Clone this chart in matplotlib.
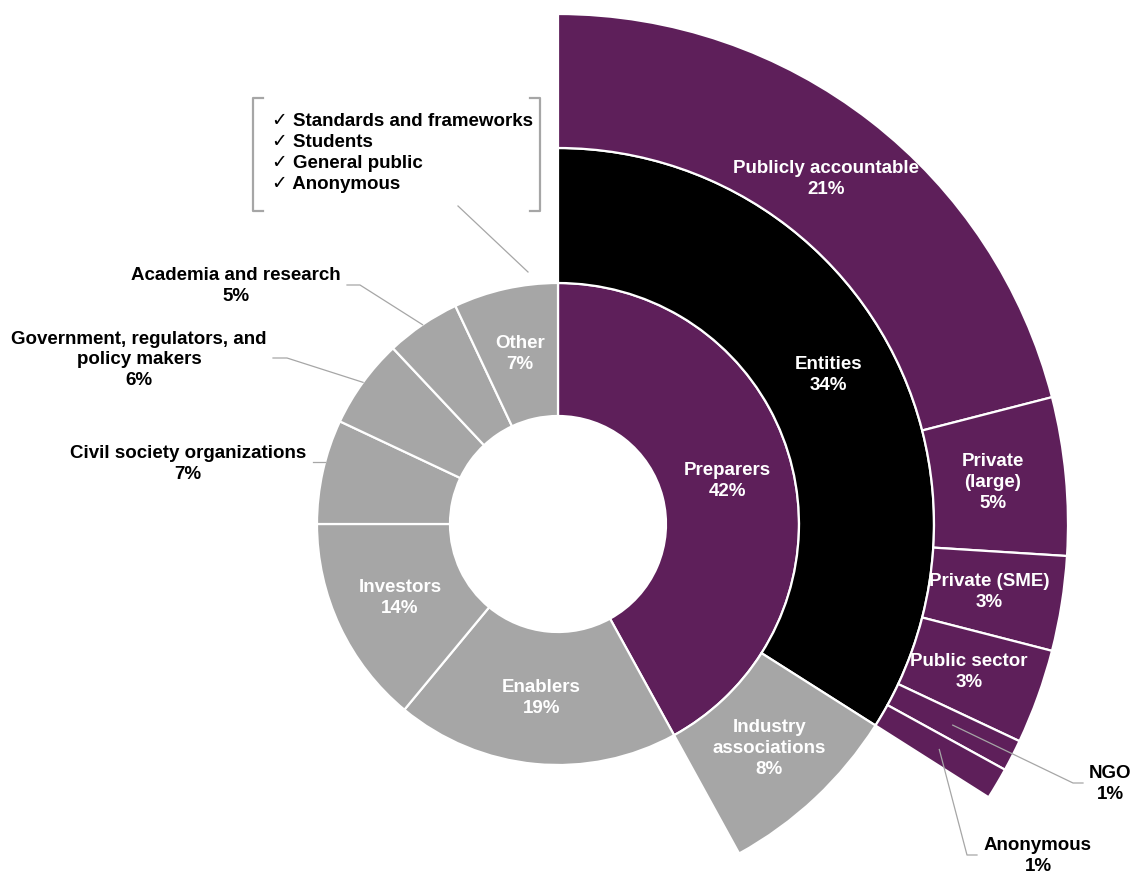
import matplotlib.pyplot as plt
import numpy as np

# Inner ring: stakeholder groups (share of respondents, %)
GROUPS = ["Preparers", "Enablers", "Investors", "Civil society organizations",
          "Government, regulators, and\npolicy makers", "Academia and research", "Other"]
GROUP_PCT = [42, 19, 14, 7, 6, 5, 7]

# Middle ring: breakdown of preparers
PREPARER_TYPES = ["Entities", "Industry\nassociations"]
PREPARER_PCT = [34, 8]

# Outer ring: breakdown of entities
ENTITY_TYPES = ["Publicly accountable", "Private\n(large)", "Private (SME)",
                "Public sector", "NGO", "Anonymous"]
ENTITY_PCT = [21, 5, 3, 3, 1, 1]

# What "Other" contains
OTHER_ITEMS = ["Standards and frameworks", "Students", "General public", "Anonymous"]

PURPLE = "#5E1F5A"
GREY = "#A6A6A6"
BLACK = "#000000"
LINE = "#A6A6A6"
FONT = ["Liberation Sans", "DejaVu Sans"]

W, H = 1138, 876
CX, CY = 558, 524          # ring centre, pixels from top-left
R_HOLE, R_IN, R_MID, R_OUT = 108, 241, 376, 510


def px(x, y):
    """pixel position (from top-left) -> data coords centred on the rings"""
    return x - CX, CY - y


def mid_point(wedge, r):
    ang = np.deg2rad((wedge.theta1 + wedge.theta2) / 2)
    return r * np.cos(ang), r * np.sin(ang)


fig = plt.figure(figsize=(W / 100, H / 100), dpi=100)
ax = fig.add_axes([0, 0, 1, 1])
edge = dict(edgecolor="white", linewidth=1.6)

inner, _ = ax.pie(GROUP_PCT, radius=R_IN, startangle=90, counterclock=False,
                  colors=[PURPLE] + [GREY] * (len(GROUP_PCT) - 1),
                  wedgeprops=dict(width=R_IN - R_HOLE, **edge))

mid_vals = PREPARER_PCT + [100 - sum(PREPARER_PCT)]
middle, _ = ax.pie(mid_vals, radius=R_MID, startangle=90, counterclock=False,
                   colors=[BLACK, GREY, "none"],
                   wedgeprops=dict(width=R_MID - R_IN, **edge))
middle[-1].set_visible(False)

out_vals = ENTITY_PCT + [100 - sum(ENTITY_PCT)]
outer, _ = ax.pie(out_vals, radius=R_OUT, startangle=90, counterclock=False,
                  colors=[PURPLE] * len(ENTITY_PCT) + ["none"],
                  wedgeprops=dict(width=R_OUT - R_MID, **edge))
outer[-1].set_visible(False)

ax.set_xlim(-CX, W - CX)
ax.set_ylim(-(H - CY), CY)
ax.set_aspect("equal")
ax.axis("off")

txt = dict(fontsize=13.5, fontweight="bold", family=FONT, ha="center", va="center",
           linespacing=1.3)

# labels inside the wedges
inside = [(inner, GROUPS, GROUP_PCT, [0, 1, 2, 6], (R_HOLE + R_IN) / 2),
          (middle, PREPARER_TYPES, PREPARER_PCT, [0, 1], (R_IN + R_MID) / 2),
          (outer, ENTITY_TYPES, ENTITY_PCT, [0, 1, 2, 3], (R_MID + R_OUT) / 2 - 6)]
for wedges, names, pcts, idx, r in inside:
    for i in idx:
        ax.text(*mid_point(wedges[i], r), f"{names[i]}\n{pcts[i]}%", color="white", **txt)

# labels outside with leader lines: (wedge, name, pct, text pos, line start, elbow, anchor radius)
r_outer_mid = (R_MID + R_OUT) / 2
outside = [
    (inner[5], GROUPS[5], GROUP_PCT[5], (236, 286), (347, 285), (360, 285), R_IN),
    (inner[4], GROUPS[4], GROUP_PCT[4], (139, 360), (273, 358), (287, 358), R_IN),
    (inner[3], GROUPS[3], GROUP_PCT[3], (188, 464), (313, 462), None, R_IN),
    (outer[4], ENTITY_TYPES[4], ENTITY_PCT[4], (1110, 784), (1083, 783), (1073, 783),
     r_outer_mid),
    (outer[5], ENTITY_TYPES[5], ENTITY_PCT[5], (1038, 856), (977, 855), (967, 855),
     r_outer_mid),
]
for wedge, name, pct, tpos, start, elbow, r in outside:
    ax.text(*px(*tpos), f"{name}\n{pct}%", color="black", **txt)
    x0, y0 = px(*start)
    if elbow is None:
        # straight across to the ring edge
        xs, ys = [x0, -np.sqrt(r ** 2 - y0 ** 2)], [y0, y0]
    else:
        end = mid_point(wedge, r)
        xs = [x0, px(*elbow)[0], end[0]]
        ys = [y0, px(*elbow)[1], end[1]]
    ax.plot(xs, ys, color=LINE, lw=0.9)

# bracketed list of what "Other" covers
for x0, tick in [(253, 10), (540, -10)]:
    bx = [x0 + tick, x0, x0, x0 + tick]
    by = [98, 98, 211, 211]
    ax.plot([px(x, y)[0] for x, y in zip(bx, by)],
            [px(x, y)[1] for x, y in zip(bx, by)], color=LINE, lw=1.6)
ax.text(*px(272, 153), "\n".join("\u2713 " + s for s in OTHER_ITEMS), color="black",
        fontsize=13.5, fontweight="bold", family=FONT, ha="left", va="center",
        linespacing=1.3)
ax.plot(*zip(px(458, 206), px(528, 272)), color=LINE, lw=0.9)

fig.savefig("out.png", dpi=100, facecolor="white")
